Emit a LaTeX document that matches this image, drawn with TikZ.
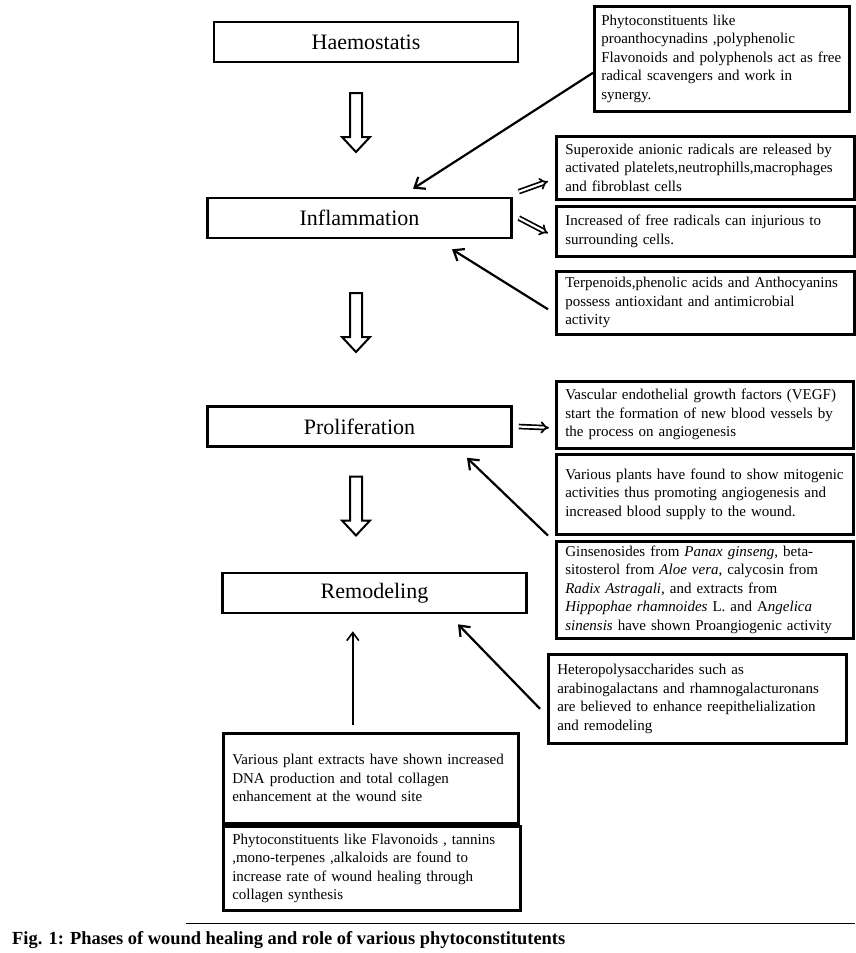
\documentclass[tikz,border=0pt]{standalone}
\usepackage{fontspec}
\setmainfont{Liberation Serif}
\usepackage{graphicx}
\usepackage{tikz}
\usetikzlibrary{shapes, arrows.meta, positioning, calc}

\newcommand{\notesize}{\fontsize{15}{18.5}\selectfont}
\newcommand{\phasesize}{\fontsize{22}{26}\selectfont}

\begin{document}
\begin{tikzpicture}[
        x=1pt, y=-1pt,
        phase/.style={
            rectangle,
            draw=black,
            fill=white,
            minimum width=304pt,
            minimum height=40pt,
            line width=2.6pt,
            font=\phasesize
        },
        note/.style={
            rectangle,
            draw=black,
            anchor=north west,
            line width=2.6pt,
            inner xsep=9pt,
            inner ysep=2pt,
            align=left,
            font=\notesize
        },
        bigarrow/.style={
            draw=black,
            fill=white,
            line width=2pt,
            line join=miter
        },
        link/.style={line width=2.2pt, -{Straight Barb[length=9pt,width=14pt]}},
        twin/.style={double, double distance=2.2pt, line width=1.7pt, -{Implies}}
    ]
    \useasboundingbox (0,0) rectangle (855,953);

    % Phases
    \node[phase] (haem) at (366,42) {Haemostatis};
    \node[phase] (infl) at (359.5,218) {Inflammation};
    \node[phase] (prolif) at (359.5,426.5) {Proliferation};
    \node[phase] (remod) at (374.5,593) {Remodeling};

    % Hollow arrows between the phases
    \foreach \ypos in {122.5, 322.5, 506} {
        \draw[bigarrow, shift={(356,\ypos)}]
            (-6,-29.5) -- (6,-29.5) -- (6,14.5) -- (14,14.5) -- (0,29.5)
            -- (-14,14.5) -- (-6,14.5) -- cycle;
    }

    % Notes on the right
    \node[note, inner xsep=7pt, text width=241pt, minimum height=105pt] (phytotop) at (593,5)
        {Phytoconstituents like\\ proanthocynadins ,polyphenolic\\ Flavonoids and polyphenols act as free\\ radical scavengers and work in\\ synergy.};
    \node[note, text width=280pt, minimum height=63pt] (superox) at (555,135)
        {Superoxide anionic radicals are released by\\ activated platelets,neutrophills,macrophages\\ and fibroblast cells};
    \node[note, text width=280pt, minimum height=50pt] (freerad) at (555,205)
        {Increased of free radicals can injurious to\\ surrounding cells.};
    \node[note, text width=280pt, minimum height=63pt] (terpen) at (555,270)
        {Terpenoids,phenolic acids and Anthocyanins\\ possess antioxidant and antimicrobial\\ activity};
    \node[note, text width=279pt, minimum height=67pt] (vegf) at (555,380)
        {Vascular endothelial growth factors (VEGF)\\ start the formation of new blood vessels by\\ the process on angiogenesis};
    \node[note, text width=279pt, minimum height=80pt] (mitogen) at (555,453)
        {Various plants have found to show mitogenic\\ activities thus promoting angiogenesis and\\ increased blood supply to the wound.};
    \node[note, text width=279pt, minimum height=97pt] (ginseng) at (555,540)
        {Ginsenosides from \textit{Panax ginseng}, beta-\\ sitosterol from \textit{Aloe vera}, calycosin from\\ \textit{Radix Astragali}, and extracts from\\ \textit{Hippophae rhamnoides} L. and A\textit{ngelica}\\ \textit{sinensis} have shown Proangiogenic activity};
    \node[note, text width=280pt, minimum height=89pt] (hetero) at (547,653)
        {Heteropolysaccharides such as\\ arabinogalactans and rhamnogalacturonans\\ are believed to enhance reepithelialization\\ and remodeling};

    % Notes below
    \node[note, text width=277pt, minimum height=90pt] (collagen) at (222,732)
        {Various plant extracts have shown increased\\ DNA production and total collagen\\ enhancement at the wound site};
    \node[note, text width=279pt, minimum height=84pt] (phytobot) at (222,825)
        {Phytoconstituents like Flavonoids , tannins\\ ,mono-terpenes ,alkaloids are found to\\ increase rate of wound healing through\\ collagen synthesis};

    % Relationships
    \draw[link] ($(phytotop.west)+(0,14)$) -- ($(infl.north)+(53.5,-8)$);
    \draw[twin] ($(infl.north east)+(6,-5)$) -- ($(superox.west)+(-7,13.5)$);
    \draw[twin] ($(infl.east)+(6,0)$) -- ($(freerad.west)+(-7,2)$);
    \draw[link] ($(terpen.west)+(-7,6.5)$) -- ($(infl.south)+(92.5,10)$);
    \draw[twin] ($(prolif.east)+(6,0)$) -- ($(vegf.west)+(-6,13)$);
    \draw[link] ($(mitogen.south west)+(-7,0)$) -- ($(prolif.south)+(107.5,10)$);
    \draw[link] ($(hetero.west)+(-7,10)$) -- ($(remod.south)+(83.5,10)$);
    \coordinate (collagenout) at ($(collagen.north)+(-18,-7)$);
    \draw[line width=1.6pt, shorten >=17pt, -{Straight Barb[length=8pt,width=12pt]}]
        (collagenout) -- (collagenout |- remod.south);

    % Caption
    \coordinate (rulestart) at (186,923);
    \coordinate (ruleend) at (855,923);
    \draw[line width=0.8pt] (rulestart) -- (ruleend);
    \node[anchor=west, inner sep=0pt] (caption) at (12,940)
        {\resizebox{553pt}{13pt}{\bfseries Fig. 1: Phases of wound healing and role of various phytoconstitutents}};

\end{tikzpicture}
\end{document}
